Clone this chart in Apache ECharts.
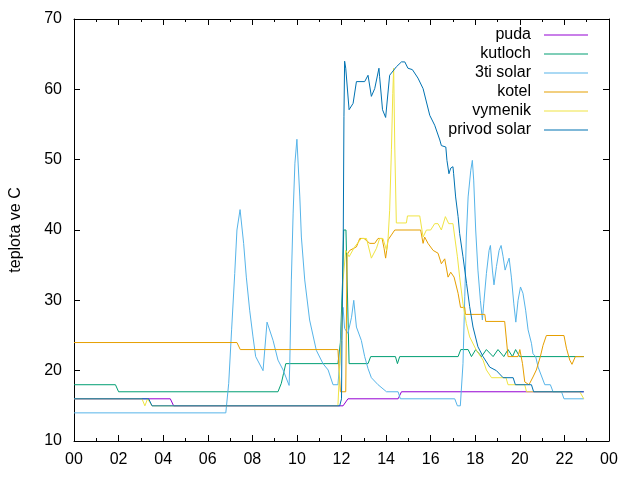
<!DOCTYPE html>
<html>
<head>
<meta charset="utf-8">
<script src="https://cdn.jsdelivr.net/npm/echarts@6/dist/echarts.min.js"></script>
<style>html,body{margin:0;padding:0;background:#fff}#c{width:640px;height:480px}</style>
</head>
<body>
<div id="c"></div>
<script>
// series names
const seriesNames = ['puda', 'kutloch', '3ti solar', 'kotel', 'vymenik', 'privod solar'];
const seriesColors = ['#9400d3', '#009e73', '#56b4e9', '#e69f00', '#f0e442', '#0072b2'];
// x ticks (hours), labels shown as hour of day
const xTicks = [0, 2, 4, 6, 8, 10, 12, 14, 16, 18, 20, 22, 24];
const yTicks = [10, 20, 30, 40, 50, 60, 70];

// [hour, temperature] vertices
const puda = [[0,16],[4.32,16],[4.47,15],[12.07,15],[12.29,16],[14.54,16],[14.69,17],[22.87,17]];

const kutloch = [[0,18],[1.86,18],[2.0,17],[9.15,17],[9.3,18.2],[9.4,19.6],[9.5,21],[11.84,21],[11.95,24],[12.05,33],[12.1,40],[12.2,40],[12.34,21],[13.19,21],[13.31,22],[14.42,22],[14.51,21],[14.61,22],[17.23,22],[17.35,23],[17.68,23],[17.83,22],[18.02,23],[18.28,22],[18.5,23],[18.8,22],[19.02,23],[19.28,22],[19.47,23],[19.67,22],[19.81,23],[19.99,22],[22.87,22]];

const solar3ti = [[0,14],[6.81,14],[6.94,18.2],[7.07,25.8],[7.21,33.8],[7.31,40],[7.45,42.9],[7.49,42.9],[7.61,38.1],[7.73,33.3],[7.88,28.6],[8.03,24.8],[8.15,22],[8.48,20],[8.66,26.9],[8.93,24.3],[9.15,21.5],[9.38,20.1],[9.65,17.9],[9.68,21],[9.75,32.9],[9.83,42.4],[9.91,49.5],[10.0,52.9],[10.13,44.7],[10.2,39],[10.35,32.9],[10.57,27.2],[10.87,22.9],[11.17,21],[11.4,20.1],[11.62,18],[11.84,18],[11.92,21],[12.0,27],[12.07,29],[12.14,26],[12.29,25.3],[12.45,27.6],[12.55,30],[12.67,26.2],[12.89,24.3],[13.04,22],[13.19,20.3],[13.34,19],[13.64,18],[14.02,17],[14.54,17],[14.64,16],[17.08,16],[17.2,15],[17.33,15],[17.45,21],[17.53,30.5],[17.6,39],[17.68,44.7],[17.8,48.5],[17.87,49.9],[17.93,47.1],[18.02,40],[18.12,34.3],[18.23,30],[18.32,27.2],[18.38,29.5],[18.5,33.8],[18.62,37.1],[18.68,37.8],[18.77,34.3],[18.84,32.2],[18.95,34.8],[19.07,37.1],[19.16,37.8],[19.25,36.2],[19.34,34.3],[19.43,35.2],[19.52,36],[19.62,33.3],[19.73,29.5],[19.82,26.9],[19.92,30],[20.03,31.9],[20.14,31],[20.26,28.6],[20.37,25.8],[20.52,23.9],[20.59,22.4],[20.71,22],[20.82,20.5],[21.12,18],[21.37,18],[21.49,17],[21.87,17],[21.98,16],[22.87,16]];

const kotel = [[0,24],[7.31,24],[7.46,23],[11.84,23],[11.95,17],[12.19,17],[12.25,36.5],[12.37,37.1],[12.67,37.6],[12.82,38.8],[13.01,38.8],[13.27,38.1],[13.49,38.1],[13.64,38.8],[13.82,38.8],[13.91,37.4],[13.98,36],[14.09,38.6],[14.24,39.3],[14.39,40],[15.55,40],[15.66,38.1],[15.73,39],[15.88,38.1],[16.11,37.1],[16.33,36.7],[16.48,35.2],[16.63,35.9],[16.78,33.3],[16.9,34],[17.05,33.3],[17.23,31],[17.34,29],[17.53,29],[17.56,28],[18.43,28],[18.47,27],[19.32,27],[19.47,22],[19.92,22],[20.0,23],[20.12,21],[20.22,18.4],[20.41,18],[20.59,19.1],[20.74,20.1],[20.92,22],[21.04,23.6],[21.19,25],[21.98,25],[22.09,23.2],[22.24,21.5],[22.34,20.9],[22.49,22],[22.87,22]];

const vymenik = [[0,16],[3.05,16],[3.18,15],[3.3,16],[3.35,16],[3.5,15],[11.84,15],[11.92,20.5],[12.0,24.8],[12.07,32.9],[12.19,37.1],[12.34,36.2],[12.59,37.6],[12.89,38.8],[13.12,38.8],[13.34,36],[13.57,37.4],[13.71,38.8],[13.86,38.8],[14.02,37.1],[14.09,38.8],[14.16,42.8],[14.24,51.4],[14.3,59.4],[14.34,63],[14.39,51.8],[14.46,41],[14.91,41],[14.96,42],[15.51,42],[15.66,39],[15.81,40],[16.0,40],[16.18,40.9],[16.33,40.9],[16.48,40],[16.66,41.9],[16.81,40.9],[17.0,40.9],[17.08,39],[17.2,36.2],[17.3,33.3],[17.45,29.5],[17.6,26.7],[17.75,24.8],[18.05,22.9],[18.35,21.5],[18.5,20.1],[18.73,19],[19.38,19],[19.47,18],[20.22,18],[20.3,17],[22.69,17],[22.87,16]];

const privodSolar = [[0,16],[3.35,16],[3.5,15],[11.92,15],[12.0,16],[12.02,24.3],[12.08,40],[12.11,56.1],[12.14,64],[12.19,63],[12.34,57.1],[12.52,58],[12.67,61.1],[13.04,61.1],[13.19,62],[13.34,59],[13.49,60.1],[13.68,63],[13.71,61.8],[13.84,57.1],[13.98,56],[14.16,62],[14.46,63.2],[14.69,63.9],[14.84,63.9],[14.98,63],[15.18,62.8],[15.43,61.6],[15.66,60.1],[15.96,56.3],[16.18,54.9],[16.41,52.8],[16.48,52],[16.68,51.8],[16.73,49.9],[16.82,48],[16.9,48.8],[17.0,49],[17.03,48],[17.12,44.7],[17.23,41.9],[17.3,39.5],[17.45,36.2],[17.61,32.4],[17.75,29.1],[17.9,26.2],[18.12,23.4],[18.35,22],[18.65,20.5],[18.95,20],[19.25,19],[19.7,19],[19.8,18],[20.52,18],[20.62,17],[22.87,17]];

const allData = [puda, kutloch, solar3ti, kotel, vymenik, privodSolar];

const FONT = '"Liberation Sans", Arial, sans-serif';
const fmtHour = v => String(Math.round(v) % 24).padStart(2, '0');

function xAx(pos, labels) {
  return {
    type: 'value', position: pos, min: 0, max: 24, interval: 2,
    axisLine: { show: true, onZero: false, lineStyle: { color: '#000', width: 1 } },
    axisTick: { show: true, inside: true, length: 6, lineStyle: { color: '#000' } },
    minorTick: { show: true, splitNumber: 2, length: 3, lineStyle: { color: '#000' } },
    splitLine: { show: false }, minorSplitLine: { show: false },
    axisLabel: { show: labels, formatter: fmtHour, color: '#000', fontSize: 16, fontFamily: FONT, margin: 11 }
  };
}
function yAx(pos, labels) {
  return {
    type: 'value', position: pos, min: 10, max: 70, interval: 10,
    name: labels ? 'teplota ve C' : '', nameLocation: 'middle', nameGap: 50,
    nameTextStyle: { color: '#000', fontSize: 16, fontFamily: FONT },
    axisLine: { show: true, onZero: false, lineStyle: { color: '#000', width: 1 } },
    axisTick: { show: true, inside: true, length: 6, lineStyle: { color: '#000' } },
    splitLine: { show: false },
    axisLabel: { show: labels, color: '#000', fontSize: 16, fontFamily: FONT, margin: 12 }
  };
}

const chart = echarts.init(document.getElementById('c'), null, { renderer: 'canvas' });
chart.setOption({
  animation: false,
  backgroundColor: '#fff',
  grid: { left: 74, right: 31, top: 19, bottom: 39, containLabel: false, outerBoundsMode: 'none' },
  xAxis: [xAx('bottom', true), xAx('top', false)],
  yAxis: [yAx('left', true), yAx('right', false)],
  legend: {
    orient: 'vertical', align: 'right', right: 47, top: 22,
    itemWidth: 44, itemHeight: 16, itemGap: 3,
    textStyle: { color: '#000', fontSize: 16, fontFamily: FONT, lineHeight: 16, padding: [0, 8, 0, 0] },
    data: seriesNames.map(n => ({ name: n, icon: 'path://M0,0 L44,0 L44,1 L0,1 Z' }))
  },
  series: seriesNames.map((n, i) => ({
    name: n, type: 'line', xAxisIndex: 0, yAxisIndex: 0,
    data: allData[i], symbol: 'none', showSymbol: false,
    lineStyle: { color: seriesColors[i], width: 1 },
    itemStyle: { color: seriesColors[i] },
    emphasis: { disabled: true }
  }))
});
</script>
</body>
</html>
